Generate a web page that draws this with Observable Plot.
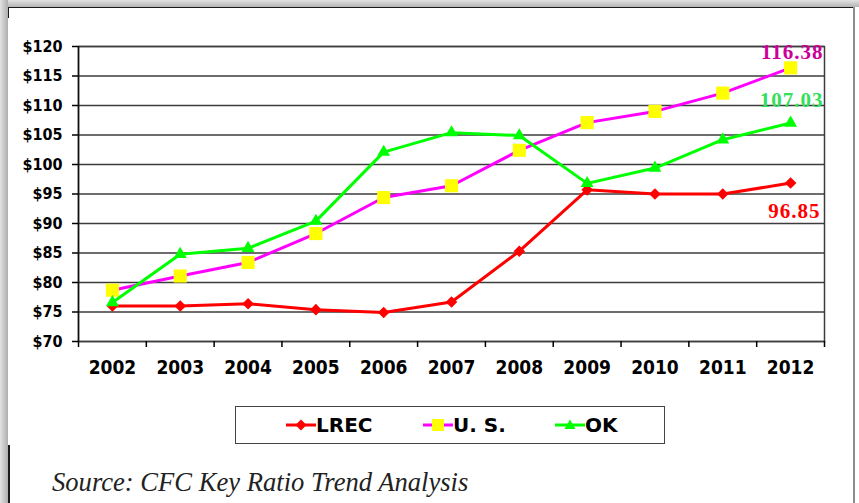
<!DOCTYPE html>
<html><head><meta charset="utf-8">
<script src="https://cdn.jsdelivr.net/npm/d3@7"></script>
<script src="https://cdn.jsdelivr.net/npm/@observablehq/plot@0.6"></script>
<style>
html,body{margin:0;padding:0;background:#fff;}
#page{position:relative;width:859px;height:503px;overflow:hidden;background:#fff;}
#shadowTop{position:absolute;left:0;top:0;width:859px;height:7px;background:linear-gradient(#e2e2e2,#b4b4b4);}
#shadowLeft{position:absolute;left:0;top:0;width:8px;height:503px;background:linear-gradient(to right,#e2e2e2,#aeaeae);}
#topLine{position:absolute;left:8px;top:7px;width:846px;height:1px;background:#1a1a1a;}
#leftLine1{position:absolute;left:8px;top:7px;width:1px;height:11px;background:#1a1a1a;}
#leftLine2{position:absolute;left:8px;top:445px;width:2px;height:58px;background:#1a1a1a;}
#rightLine{position:absolute;left:853px;top:7px;width:2px;height:496px;background:#8c8c8c;}
#chart{position:absolute;left:0;top:0;}
#legend{position:absolute;left:235px;top:406px;width:428px;height:36px;border:1.5px solid #444;background:#fff;}
.item{position:absolute;top:0;height:36px;display:flex;align-items:center;font-family:"DejaVu Sans",sans-serif;font-weight:bold;font-size:20px;color:#000;}
.item svg{display:block;}
#caption{position:absolute;left:52px;top:469px;line-height:26px;font-family:"Liberation Serif",serif;font-style:italic;font-size:26.6px;color:#222;white-space:nowrap;}
svg g[aria-label="text"] text{letter-spacing:1px;}
</style></head>
<body><div id="page">
<div id="shadowTop"></div><div id="shadowLeft"></div>
<div id="topLine"></div><div id="leftLine1"></div><div id="leftLine2"></div><div id="rightLine"></div>
<div id="chart"></div>
<div id="legend"></div>
<div id="caption">Source: CFC Key Ratio Trend Analysis</div>
</div>
<script>
const years = [2002, 2003, 2004, 2005, 2006, 2007, 2008, 2009, 2010, 2011, 2012];
const lrec = [76.0, 76.0, 76.4, 75.4, 74.9, 76.7, 85.3, 95.7, 95.0, 95.0, 96.85];
const us = [78.7, 81.1, 83.4, 88.3, 94.4, 96.4, 102.4, 107.1, 109.0, 112.1, 116.38];
const ok = [76.6, 84.8, 85.8, 90.4, 102.1, 105.4, 104.9, 96.8, 99.4, 104.2, 107.03];
const yTicks = [70, 75, 80, 85, 90, 95, 100, 105, 110, 115, 120];
const seriesNames = ["LREC", "U. S.", "OK"];

const rows = vals => years.map((year, i) => ({year, value: vals[i]}));
const L = rows(lrec), U = rows(us), O = rows(ok);
const last = a => [a[a.length - 1]];
const bounds = [...years.map(y => y - 0.5), years[years.length - 1] + 0.5];
const axisFont = "DejaVu Sans Condensed, DejaVu Sans, sans-serif";
const labelFont = "Liberation Serif, serif";

const chart = Plot.plot({
  width: 859, height: 391,
  marginTop: 46, marginBottom: 50, marginLeft: 78, marginRight: 35,
  style: {background: "transparent", overflow: "visible"},
  x: {type: "linear", domain: [bounds[0], bounds[bounds.length - 1]]},
  y: {domain: [70, 120]},
  marks: [
    Plot.gridY(yTicks, {stroke: "#3c3c3c", strokeOpacity: 1, strokeWidth: 1.5}),
    Plot.frame({stroke: "#3c3c3c", strokeWidth: 1.5}),
    Plot.ruleX([bounds[0]], {stroke: "#111", strokeWidth: 1.5}),
    Plot.axisY(yTicks, {label: null, tickSize: 6, tickPadding: 10, tickFormat: d => "$" + d, fontSize: 16, fontWeight: "bold", fontFamily: axisFont, strokeWidth: 1.5}),
    Plot.axisX(years, {label: null, tickSize: 0, tickPadding: 19, tickFormat: d => String(d), fontSize: 19, fontWeight: "bold", fontFamily: axisFont}),
    Plot.axisX(bounds, {label: null, tickSize: 6, tickFormat: () => "", strokeWidth: 1.5}),
    Plot.line(L, {x: "year", y: "value", stroke: "#ff0000", strokeWidth: 3}),
    Plot.dot(L, {x: "year", y: "value", symbol: "square", r: 4.6, rotate: 45, fill: "#ff0000"}),
    Plot.line(U, {x: "year", y: "value", stroke: "#ff00ff", strokeWidth: 3}),
    Plot.dot(U, {x: "year", y: "value", symbol: "square", r: 7.4, fill: "#ffff00"}),
    Plot.line(O, {x: "year", y: "value", stroke: "#00ff00", strokeWidth: 3}),
    Plot.dot(O, {x: "year", y: "value", symbol: "triangle", r: 4.8, fill: "#00ff00"}),
    Plot.text(last(U), {x: "year", y: "value", text: d => d.value.toFixed(2), textAnchor: "end", dx: 33, dy: -15.5, fill: "#cc0099", fontSize: 21, fontWeight: "bold", fontFamily: labelFont}),
    Plot.text(last(O), {x: "year", y: "value", text: d => d.value.toFixed(2), textAnchor: "end", dx: 33, dy: -22.5, fill: "#33e05a", fontSize: 21, fontWeight: "bold", fontFamily: labelFont}),
    Plot.text(last(L), {x: "year", y: "value", text: d => d.value.toFixed(2), textAnchor: "end", dx: 30, dy: 28.5, fill: "#ff0000", fontSize: 21, fontWeight: "bold", fontFamily: labelFont})
  ]
});
document.getElementById("chart").appendChild(chart);

// legend
const legendSpecs = [
  {name: seriesNames[0], line: "#ff0000", fill: "#ff0000", kind: "diamond", left: 50},
  {name: seriesNames[1], line: "#ff00ff", fill: "#ffff00", kind: "square", left: 187},
  {name: seriesNames[2], line: "#00ff00", fill: "#00ff00", kind: "triangle", left: 319}
];
const legend = document.getElementById("legend");
for (const s of legendSpecs) {
  const item = document.createElement("div");
  item.className = "item";
  item.style.left = s.left + "px";
  let marker = "";
  if (s.kind === "diamond") marker = `<path d="M15,1.5L20.5,7L15,12.5L9.5,7Z" fill="${s.fill}"/>`;
  if (s.kind === "square") marker = `<rect x="9" y="1" width="12" height="12" fill="${s.fill}"/>`;
  if (s.kind === "triangle") marker = `<path d="M15,1.5L20.5,11L9.5,11Z" fill="${s.fill}"/>`;
  item.innerHTML = `<svg width="30" height="14"><line x1="0" y1="7" x2="30" y2="7" stroke="${s.line}" stroke-width="3"/>${marker}</svg><span>${s.name}</span>`;
  legend.appendChild(item);
}
</script>
</body></html>
